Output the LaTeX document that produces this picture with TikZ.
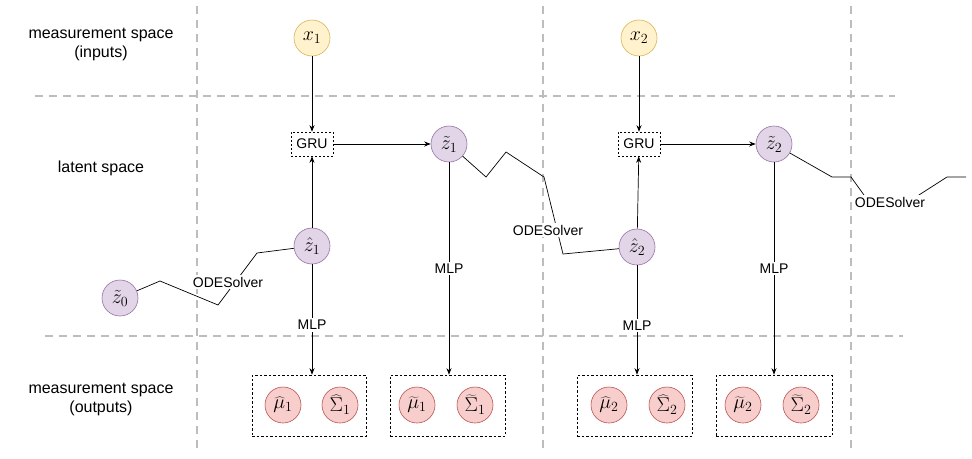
\RequirePackage{fix-cm}
\documentclass[tikz,border=0pt]{standalone}
\usepackage[no-math]{fontspec}
\setmainfont{Liberation Sans}
\usetikzlibrary{arrows.meta}
\definecolor{yelF}{HTML}{FFF2CC}\definecolor{yelD}{HTML}{D6B656}
\definecolor{purF}{HTML}{E1D5E7}\definecolor{purD}{HTML}{9673A6}
\definecolor{redF}{HTML}{F8CECC}\definecolor{redD}{HTML}{B85450}
\definecolor{gridc}{HTML}{BDBDBD}
\begin{document}
\begin{tikzpicture}[x=1pt,y=-1pt,
  circ/.style={circle,minimum size=36pt,inner sep=0pt,line width=0.6pt,font=\fontsize{20}{22}\selectfont},
  yel/.style={circ,fill=yelF,draw=yelD},
  pur/.style={circ,fill=purF,draw=purD},
  redc/.style={circ,fill=redF,draw=redD},
  grubox/.style={draw,dash pattern=on 2pt off 2pt,line width=0.6pt,minimum width=42pt,minimum height=24pt,inner sep=0pt,font=\fontsize{14}{16}\selectfont},
  outbox/.style={draw,dash pattern=on 2.5pt off 2pt,line width=0.6pt},
  grid/.style={draw=gridc,line width=1.4pt,dash pattern=on 8pt off 6pt},
  lbl/.style={fill=white,inner sep=2pt,font=\fontsize{14}{16}\selectfont},
  side/.style={align=center,font=\fontsize{16}{19}\selectfont},
  arr/.style={line width=0.7pt,-{Stealth[length=6.5pt,width=5pt]}},
  ode/.style={line width=0.7pt}
]
\useasboundingbox (0,0) rectangle (972,458);
% grid
\draw[grid] (35,96) -- (895,96);
\draw[grid] (45,336) -- (903,336);
\draw[grid] (197,6) -- (197,450);
\draw[grid] (543,6) -- (543,450);
\draw[grid] (851,6) -- (851,452);
% side labels
\node[side] (s1) at (101,44) {measurement space\\(inputs)};
\node[side] (s2) at (101,168) {latent space};
\node[side] (s3) at (101,399) {measurement space\\(outputs)};
% nodes
\node[yel] (x1) at (312,38) {$x_1$};
\node[yel] (x2) at (639,38) {$x_2$};
\node[grubox] (g1) at (312,144) {GRU};
\node[grubox] (g2) at (639,144) {GRU};
\node[pur] (zt1) at (449,144) {$\tilde{z}_1$};
\node[pur] (zt2) at (774,144) {$\tilde{z}_2$};
\node[pur] (zh1) at (312,246) {$\hat{z}_1$};
\node[pur] (zh2) at (637,247) {$\hat{z}_2$};
\node[pur] (zt0) at (120,298) {$\tilde{z}_0$};
% output boxes
\node[outbox,minimum width=114pt,minimum height=61pt] (b1) at (309,405.5) {};
\node[outbox,minimum width=115pt,minimum height=61pt] (b2) at (447.5,405.5) {};
\node[outbox,minimum width=115pt,minimum height=61pt] (b3) at (634.5,405.5) {};
\node[outbox,minimum width=116pt,minimum height=61pt] (b4) at (774,405.5) {};
\node[redc] (m1) at (283,405) {$\widehat{\mu}_1$};
\node[redc] (S1) at (340,405) {$\widehat{\Sigma}_1$};
\node[redc] (mt1) at (417,405) {$\widetilde{\mu}_1$};
\node[redc] (St1) at (475,405) {$\widetilde{\Sigma}_1$};
\node[redc] (m2) at (609,405) {$\widehat{\mu}_2$};
\node[redc] (S2) at (667,405) {$\widehat{\Sigma}_2$};
\node[redc] (mt2) at (743,405) {$\widetilde{\mu}_2$};
\node[redc] (St2) at (801,405) {$\widetilde{\Sigma}_2$};
% arrows
\draw[arr] (x1) -- (g1);
\draw[arr] (x2) -- (g2);
\draw[arr] (zh1) -- (g1);
\draw[arr] (zh2) -- (g2);
\draw[arr] (g1) -- (zt1);
\draw[arr] (g2) -- (zt2);
\draw[arr] (zh1) -- (zh1 |- b1.north) node[lbl,pos=0.55] {MLP};
\draw[arr] (zt1) -- (zt1 |- b2.north) node[lbl,pos=0.5] {MLP};
\draw[arr] (zh2) -- (zh2 |- b3.north) node[lbl,pos=0.55] {MLP};
\draw[arr] (zt2) -- (zt2 |- b4.north) node[lbl,pos=0.5] {MLP};
% ODE solver paths
\coordinate (o1a) at (160,281);
\coordinate (o1b) at (218,305);
\coordinate (o1c) at (257,253);
\draw[ode] (zt0) -- (o1a) -- (o1b) -- (o1c) -- (zh1);
\node[lbl] (ol1) at (228,282) {ODESolver};
\coordinate (o2a) at (486,177);
\coordinate (o2b) at (506,152);
\coordinate (o2c) at (544,177);
\coordinate (o2d) at (563,254);
\draw[ode] (zt1) -- (o2a) -- (o2b) -- (o2c) -- (o2d) -- (zh2);
\node[lbl] (ol2) at (548,230) {ODESolver};
\coordinate (o3a) at (832,177);
\coordinate (o3b) at (851,177);
\coordinate (o3c) at (869,202);
\coordinate (o3d) at (908,202);
\coordinate (o3e) at (947,177);
\coordinate (o3f) at (966,177);
\draw[ode] (zt2) -- (o3a) -- (o3b) -- (o3c) -- (o3d) -- (o3e) -- (o3f);
\node[lbl] (ol3) at (890,202) {ODESolver};
\end{tikzpicture}
\end{document}
